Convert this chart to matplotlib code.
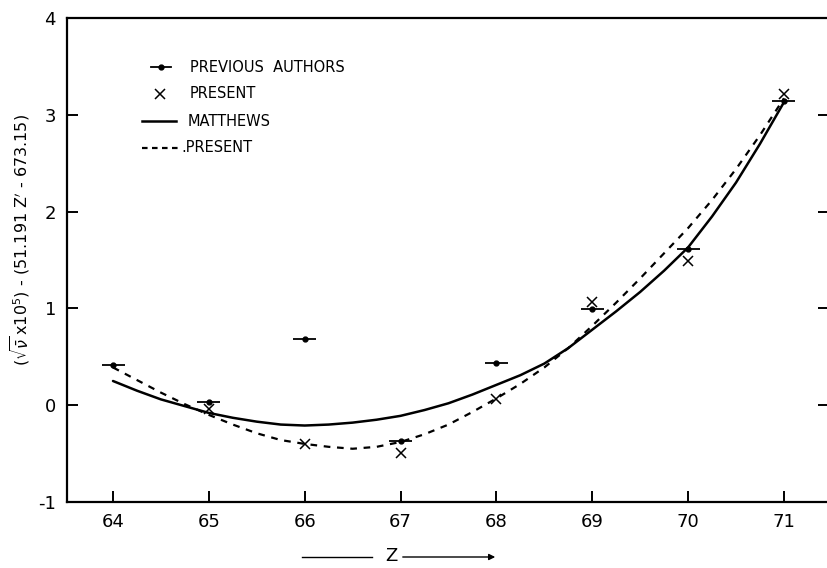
import matplotlib
matplotlib.use("Agg")
import matplotlib.pyplot as plt

# data
z_points = [64, 65, 66, 67, 68, 69, 70, 71]
previous_authors = [0.42, 0.03, 0.68, -0.37, 0.44, 0.99, 1.61, 3.14]
present_z = [65, 66, 67, 68, 69, 70, 71]
present_points = [-0.04, -0.40, -0.49, 0.06, 1.07, 1.49, 3.21]

matthews_z = [64.0, 64.25, 64.5, 64.75, 65.0, 65.25, 65.5, 65.75, 66.0, 66.25, 66.5,
              66.75, 67.0, 67.25, 67.5, 67.75, 68.0, 68.25, 68.5, 68.75, 69.0,
              69.25, 69.5, 69.75, 70.0, 70.25, 70.5, 70.75, 71.0]
matthews_fit = [0.25, 0.15, 0.06, -0.01, -0.08, -0.13, -0.17, -0.20, -0.21, -0.20, -0.18,
                -0.15, -0.11, -0.05, 0.02, 0.11, 0.21, 0.31, 0.43, 0.59, 0.78,
                0.97, 1.17, 1.39, 1.63, 1.95, 2.30, 2.70, 3.13]
present_fit_z = [64.0, 64.25, 64.5, 64.75, 65.0, 65.25, 65.5, 65.75, 66.0, 66.25, 66.5,
                 66.75, 67.0, 67.25, 67.5, 67.75, 68.0, 68.25, 68.5, 68.75, 69.0,
                 69.25, 69.5, 69.75, 70.0, 70.25, 70.5, 70.75, 71.0]
present_fit = [0.39, 0.26, 0.13, 0.01, -0.10, -0.20, -0.29, -0.36, -0.40, -0.43, -0.45,
               -0.43, -0.38, -0.30, -0.20, -0.07, 0.07, 0.22, 0.39, 0.59, 0.82,
               1.06, 1.31, 1.57, 1.83, 2.12, 2.44, 2.79, 3.17]

x_ticks = [64, 65, 66, 67, 68, 69, 70, 71]
y_ticks = [-1, 0, 1, 2, 3, 4]

W, H = 827, 568
fig = plt.figure(figsize=(W / 100, H / 100), dpi=100)
ax = fig.add_axes([67 / W, (H - 502) / H, (829 - 67) / W, (502 - 18) / H])

ax.plot(matthews_z, matthews_fit, color="black", lw=1.8, solid_capstyle="round")
ax.plot(present_fit_z, present_fit, color="black", lw=1.6, linestyle=(0, (3, 3)))
ax.errorbar(z_points, previous_authors, xerr=0.12, fmt="o", ms=3.5, color="black",
            elinewidth=1.3, capsize=0)
ax.plot(present_z, present_points, "x", color="black", ms=7, mew=1.1)

ax.set_xlim(63.52, 71.47)
ax.set_ylim(-1, 4)
ax.set_xticks(x_ticks)
ax.set_yticks(y_ticks)
ax.set_xticklabels([str(t) for t in x_ticks], fontsize=13)
ax.set_yticklabels([str(t) for t in y_ticks], fontsize=13)
ax.tick_params(direction="in", length=8, width=1.4, pad=8, right=True)
ax.tick_params(axis="y", which="both", right=True)
for side in ["left", "bottom", "top"]:
    ax.spines[side].set_linewidth(1.6)
ax.spines["right"].set_visible(False)

# legend drawn by hand, like the original
def fx(px):
    return px / W


def fy(py):
    return 1 - py / H


legend_font = dict(fontsize=10.5, va="center", ha="left", color="black")
fig.lines.append(plt.Line2D([fx(151), fx(171)], [fy(67), fy(67)], color="black", lw=1.3,
                            transform=fig.transFigure))
fig.lines.append(plt.Line2D([fx(161)], [fy(67)], marker="o", ms=3.5, color="black",
                            transform=fig.transFigure))
fig.text(fx(190), fy(67), "PREVIOUS  AUTHORS", **legend_font)
fig.lines.append(plt.Line2D([fx(160)], [fy(94)], marker="x", ms=7, mew=1.1, color="black",
                            transform=fig.transFigure))
fig.text(fx(190), fy(94), "PRESENT", **legend_font)
fig.lines.append(plt.Line2D([fx(142), fx(176)], [fy(121), fy(121)], color="black", lw=1.8,
                            transform=fig.transFigure))
fig.text(fx(188), fy(121), "MATTHEWS", **legend_font)
fig.lines.append(plt.Line2D([fx(142), fx(178)], [fy(148), fy(148)], color="black", lw=1.6,
                            linestyle=(0, (2.5, 2)), transform=fig.transFigure))
fig.text(fx(181), fy(148), ".PRESENT", **legend_font)

# y label
fig.text(fx(20), fy(240), r"$(\sqrt{\bar{\nu}}\,\mathrm{x}10^5)$ - (51.191 Z$'$ - 673.15)",
         rotation=90, ha="center", va="center", fontsize=11.5)

# x label with arrow
fig.lines.append(plt.Line2D([fx(302), fx(372)], [fy(557), fy(557)], color="black", lw=1.0,
                            transform=fig.transFigure))
fig.text(fx(391), fy(556), "Z", ha="center", va="center", fontsize=13)
ax.annotate("", xy=(fx(498), fy(557)), xytext=(fx(400), fy(557)),
            xycoords="figure fraction", textcoords="figure fraction",
            arrowprops=dict(arrowstyle="-|>", color="black", lw=1.0, mutation_scale=9))

fig.savefig("out.png", dpi=100)
